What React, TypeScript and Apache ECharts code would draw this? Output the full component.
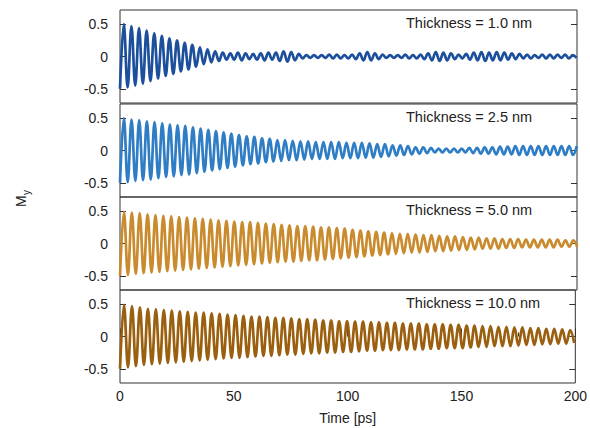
import React, { useEffect, useRef } from "react";
import * as echarts from "echarts";

// Time step (half oscillation period, ps) read for each panel
const STEP = [1.665, 1.68, 1.725, 1.75];

const THICKNESS_LABELS = ["Thickness = 1.0 nm", "Thickness = 2.5 nm", "Thickness = 5.0 nm", "Thickness = 10.0 nm"];
const COLORS = ["#1c4f9c", "#2f7dc4", "#c98b2e", "#9a600f"];
const X_TICKS = [0, 50, 100, 150, 200];
const Y_TICKS = [-0.5, 0, 0.5];

// Successive extrema of M_y
const P1 = [
  -0.50, 0.50, -0.48, 0.47, -0.45, 0.44, -0.42, 0.40, -0.38, 0.36,
  -0.34, 0.32, -0.30, 0.28, -0.27, 0.25, -0.23, 0.21, -0.20, 0.18,
  -0.16, 0.14, -0.12, 0.11, -0.09, 0.08, -0.07, 0.06, -0.05, 0.05,
  -0.05, 0.06, -0.06, 0.05, -0.04, 0.04, -0.05, 0.05, -0.06, 0.06,
  -0.05, 0.06, -0.07, 0.08, -0.08, 0.07, -0.06, 0.04, -0.03, 0.02,
  -0.02, 0.02, -0.02, 0.02, -0.02, 0.03, -0.03, 0.03, -0.03, 0.02,
  -0.03, 0.03, -0.04, 0.05, -0.06, 0.07, -0.06, 0.05, -0.04, 0.03,
  -0.02, 0.02, -0.02, 0.02, -0.02, 0.03, -0.03, 0.02, -0.03, 0.03,
  -0.04, 0.05, -0.06, 0.07, -0.07, 0.06, -0.06, 0.05, -0.04, 0.03,
  -0.03, 0.04, -0.05, 0.06, -0.06, 0.07, -0.07, 0.06, -0.06, 0.07,
  -0.06, 0.06, -0.05, 0.05, -0.04, 0.04, -0.03, 0.03, -0.03, 0.02,
  -0.02, 0.03, -0.03, 0.03, -0.03, 0.03, -0.02, 0.03, -0.03, 0.02,
  -0.02,
];

const P2 = [
  -0.50, 0.50, -0.49, 0.48, -0.47, 0.47, -0.46, 0.45, -0.45, 0.44,
  -0.43, 0.42, -0.41, 0.40, -0.40, 0.39, -0.38, 0.38, -0.37, 0.36,
  -0.35, 0.34, -0.33, 0.32, -0.31, 0.30, -0.29, 0.28, -0.27, 0.26,
  -0.25, 0.24, -0.23, 0.22, -0.21, 0.21, -0.20, 0.19, -0.18, 0.18,
  -0.17, 0.16, -0.16, 0.16, -0.15, 0.15, -0.15, 0.14, -0.14, 0.14,
  -0.13, 0.13, -0.13, 0.13, -0.13, 0.13, -0.13, 0.13, -0.12, 0.12,
  -0.12, 0.12, -0.12, 0.12, -0.11, 0.11, -0.11, 0.10, -0.10, 0.10,
  -0.09, 0.08, -0.08, 0.08, -0.07, 0.07, -0.06, 0.05, -0.05, 0.05,
  -0.04, 0.04, -0.03, 0.03, -0.03, 0.03, -0.03, 0.03, -0.03, 0.03,
  -0.03, 0.04, -0.04, 0.04, -0.05, 0.05, -0.05, 0.05, -0.06, 0.06,
  -0.06, 0.06, -0.06, 0.07, -0.07, 0.07, -0.07, 0.07, -0.07, 0.07,
  -0.07, 0.07, -0.07, 0.07, -0.07, 0.07, -0.07, 0.07, -0.07, 0.07,
];

const P3 = [
  -0.50, 0.49, -0.49, 0.48, -0.47, 0.47, -0.46, 0.45, -0.45, 0.44,
  -0.44, 0.43, -0.43, 0.42, -0.42, 0.41, -0.41, 0.40, -0.40, 0.39,
  -0.39, 0.38, -0.38, 0.37, -0.37, 0.36, -0.36, 0.35, -0.35, 0.34,
  -0.34, 0.33, -0.33, 0.33, -0.32, 0.32, -0.31, 0.31, -0.30, 0.30,
  -0.29, 0.29, -0.28, 0.28, -0.28, 0.27, -0.27, 0.27, -0.26, 0.26,
  -0.26, 0.25, -0.25, 0.25, -0.24, 0.24, -0.23, 0.23, -0.22, 0.21,
  -0.21, 0.20, -0.20, 0.19, -0.19, 0.18, -0.18, 0.17, -0.17, 0.16,
  -0.16, 0.15, -0.15, 0.15, -0.14, 0.14, -0.14, 0.13, -0.13, 0.13,
  -0.12, 0.12, -0.12, 0.11, -0.11, 0.11, -0.10, 0.10, -0.10, 0.09,
  -0.09, 0.09, -0.08, 0.08, -0.08, 0.08, -0.08, 0.07, -0.07, 0.07,
  -0.07, 0.07, -0.06, 0.06, -0.06, 0.06, -0.06, 0.06, -0.06, 0.06,
  -0.06, 0.06, -0.05, 0.05, -0.05, 0.05, -0.05,
];

const P4 = [
  -0.50, 0.49, -0.48, 0.47, -0.46, 0.45, -0.44, 0.43, -0.43, 0.42,
  -0.42, 0.41, -0.41, 0.40, -0.40, 0.39, -0.39, 0.38, -0.38, 0.37,
  -0.37, 0.37, -0.36, 0.36, -0.35, 0.35, -0.34, 0.34, -0.33, 0.33,
  -0.33, 0.32, -0.32, 0.31, -0.31, 0.31, -0.30, 0.30, -0.30, 0.29,
  -0.29, 0.29, -0.28, 0.28, -0.28, 0.27, -0.27, 0.27, -0.26, 0.26,
  -0.26, 0.25, -0.25, 0.25, -0.25, 0.24, -0.24, 0.24, -0.24, 0.23,
  -0.23, 0.23, -0.22, 0.22, -0.22, 0.22, -0.21, 0.21, -0.21, 0.21,
  -0.21, 0.20, -0.20, 0.20, -0.20, 0.20, -0.20, 0.19, -0.19, 0.19,
  -0.19, 0.19, -0.18, 0.18, -0.18, 0.18, -0.18, 0.17, -0.17, 0.17,
  -0.16, 0.16, -0.16, 0.16, -0.15, 0.15, -0.15, 0.15, -0.15, 0.14,
  -0.14, 0.14, -0.13, 0.13, -0.13, 0.13, -0.12, 0.12, -0.12, 0.12,
  -0.11, 0.11, -0.11, 0.10, -0.10,
];

const SERIES = [P1, P2, P3, P4];

const GRID_TOPS = [10, 104, 197, 290];
const GRID_H = 93;
const FONT = "'Liberation Sans', Arial, Helvetica, sans-serif";
const TXT = "#222";
const FS = 14;

export default function App() {
  const ref = useRef<HTMLDivElement>(null);
  useEffect(() => {
    if (!ref.current) return;
    const chart = echarts.init(ref.current, undefined, { renderer: "svg" });

    const grids = GRID_TOPS.map((top) => ({
      left: 120,
      right: 13,
      top,
      height: GRID_H,
      show: true,
      borderColor: "#333",
      borderWidth: 1,
      backgroundColor: "transparent",
    }));

    const xAxes = GRID_TOPS.map((_, i) => {
      const last = i === GRID_TOPS.length - 1;
      return {
        type: "value",
        gridIndex: i,
        min: X_TICKS[0],
        max: X_TICKS[X_TICKS.length - 1],
        interval: 50,
        axisLine: { show: false },
        splitLine: { show: false },
        axisTick: { show: last, inside: true, length: 8, lineStyle: { color: "#333" } },
        minorTick: { show: last, splitNumber: 2, length: 4, lineStyle: { color: "#333" } },
        minorSplitLine: { show: false },
        axisLabel: {
          show: last,
          color: TXT,
          fontSize: FS,
          fontFamily: FONT,
          margin: 6,
        },
        name: last ? "Time [ps]" : "",
        nameLocation: "middle",
        nameGap: 28,
        nameTextStyle: { color: TXT, fontSize: FS, fontFamily: FONT },
      };
    });

    const yAxes: any[] = [];
    GRID_TOPS.forEach((_, i) => {
      const common = {
        type: "value",
        gridIndex: i,
        min: -0.72,
        max: 0.72,
        axisLine: { show: false },
        splitLine: { show: false },
      };
      yAxes.push({
        ...common,
        position: "left",
        axisTick: { show: true, inside: true, length: 6, customValues: Y_TICKS, lineStyle: { color: "#333" } },
        axisLabel: {
          show: true,
          customValues: Y_TICKS,
          color: TXT,
          fontSize: FS,
          fontFamily: FONT,
          margin: 12,
        },
      });
      yAxes.push({
        ...common,
        position: "right",
        axisTick: { show: true, inside: true, length: 6, customValues: Y_TICKS, lineStyle: { color: "#333" } },
        axisLabel: { show: false },
      });
    });

    const series = SERIES.map((vals, i) => ({
      type: "line",
      xAxisIndex: i,
      yAxisIndex: i * 2,
      data: vals.map((v, k) => [k * STEP[i], v]),
      showSymbol: false,
      smooth: 0.38,
      smoothMonotone: "x",
      clip: true,
      lineStyle: { color: COLORS[i], width: 2.7 },
      itemStyle: { color: COLORS[i] },
    }));

    const labelTexts = THICKNESS_LABELS.map((t, i) => ({
      type: "text",
      left: 406,
      top: GRID_TOPS[i] + 5,
      style: { text: t, fill: TXT, fontSize: 14.5, fontFamily: FONT },
    }));

    chart.setOption({
      animation: false,
      backgroundColor: "#fff",
      grid: grids,
      xAxis: xAxes,
      yAxis: yAxes,
      series,
      graphic: [
        ...labelTexts,
        {
          type: "group",
          x: 21,
          y: 200,
          rotation: Math.PI / 2,
          children: [
            {
              type: "text",
              x: -7,
              y: 0,
              style: { text: "M", fill: TXT, fontSize: 14, fontFamily: FONT, textAlign: "left", textVerticalAlign: "middle" },
            },
            {
              type: "text",
              x: 5,
              y: 5,
              style: { text: "y", fill: TXT, fontSize: 10, fontFamily: FONT, textAlign: "left", textVerticalAlign: "middle" },
            },
          ],
        },
      ],
    });
    return () => chart.dispose();
  }, []);
  return <div ref={ref} style={{ width: 590, height: 428, position: "absolute", left: 0, top: 0 }} />;
}
